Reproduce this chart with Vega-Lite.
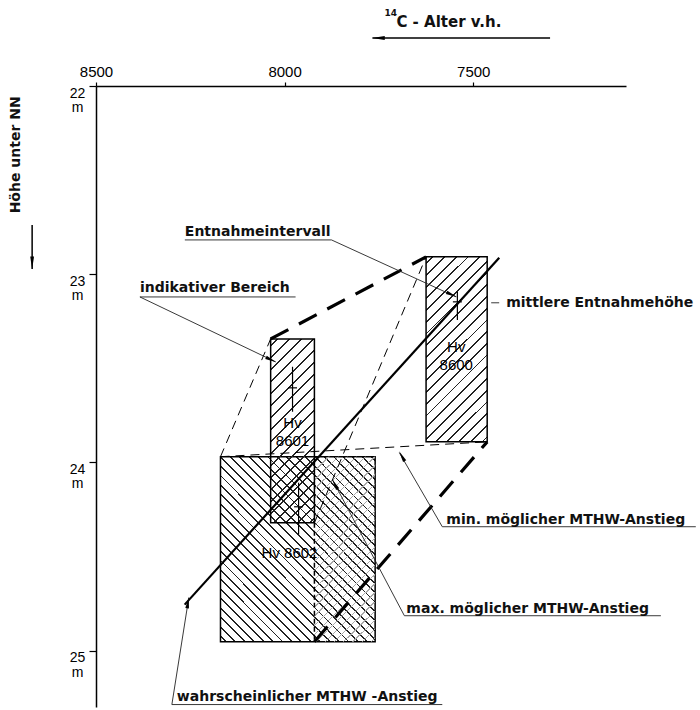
{
  "$schema": "https://vega.github.io/schema/vega-lite/v6.json",
  "width": 530,
  "height": 621,
  "autosize": {"type": "none"},
  "padding": {"left": 96, "top": 86, "right": 74, "bottom": 3},
  "background": "white",
  "config": {"view": {"stroke": null}, "axis": {"grid": false}},
  "datasets": {
    "regions": [
      {"sample": "Hv 8600", "age": 7625, "age2": 7463, "depth": 22.908, "depth2": 23.891},
      {"sample": "Hv 8601", "age": 8037, "age2": 7921, "depth": 23.344, "depth2": 24.321},
      {"sample": "Hv 8602", "age": 8170, "age2": 7760, "depth": 23.97, "depth2": 24.953},
      {"sample": "Hv 8602 jung", "age": 7921, "age2": 7760, "depth": 23.97, "depth2": 24.953}
    ],
    "segments": [
      {"kind": "wahrscheinlich", "age": 8265, "depth": 24.756, "age2": 7431, "depth2": 22.913},
      {"kind": "grenze", "age": 8037, "depth": 23.344, "age2": 7625, "depth2": 22.908},
      {"kind": "grenze", "age": 7921, "depth": 24.953, "age2": 7463, "depth2": 23.891},
      {"kind": "hilfslinie", "age": 8170, "depth": 23.97, "age2": 8037, "depth2": 23.344},
      {"kind": "hilfslinie", "age": 8170, "depth": 23.97, "age2": 7463, "depth2": 23.891},
      {"kind": "hilfslinie", "age": 7921, "depth": 24.321, "age2": 7625, "depth2": 22.908},
      {"kind": "senkrecht", "age": 7921, "depth": 24.321, "age2": 7921, "depth2": 24.953}
    ],
    "intervals": [
      {"sample": "Hv 8600", "age": 7542, "depth": 23.094, "depth2": 23.243},
      {"sample": "Hv 8601", "age": 7979, "depth": 23.492, "depth2": 23.731},
      {"sample": "Hv 8602", "age": 7963, "depth": 24.108, "depth2": 24.384}
    ],
    "means": [
      {"sample": "Hv 8600", "age": 7542, "depth": 23.147},
      {"sample": "Hv 8601", "age": 7979, "depth": 23.604},
      {"sample": "Hv 8602", "age": 7963, "depth": 24.236}
    ],
    "sampleLabels": [
      {"label": "Hv", "age": 7545, "depth": 23.386},
      {"label": "8600", "age": 7545, "depth": 23.482},
      {"label": "Hv", "age": 7979, "depth": 23.79},
      {"label": "8601", "age": 7979, "depth": 23.885},
      {"label": "Hv 8602", "age": 7987, "depth": 24.48}
    ],
    "notes": [
      {"label": "Entnahmeintervall", "age": 8264.5, "depth": 22.775},
      {"label": "indikativer Bereich", "age": 8383.6, "depth": 23.073},
      {"label": "mittlere Entnahmehöhe", "age": 7412.7, "depth": 23.152},
      {"label": "min. möglicher MTHW-Anstieg", "age": 7571.4, "depth": 24.305},
      {"label": "max. möglicher MTHW-Anstieg", "age": 7677.3, "depth": 24.778},
      {"label": "wahrscheinlicher MTHW -Anstieg", "age": 8285.7, "depth": 25.245}
    ],
    "leaders": [
      {"label": "Entnahmeintervall", "age": 8264.5, "depth": 22.818, "age2": 7875.7, "depth2": 22.818},
      {"label": "Entnahmeintervall", "age": 7875.7, "depth": 22.818, "age2": 7545, "depth2": 23.121},
      {"label": "indikativer Bereich", "age": 8383.6, "depth": 23.121, "age2": 7970.9, "depth2": 23.121},
      {"label": "indikativer Bereich", "age": 8383.6, "depth": 23.121, "age2": 8023.8, "depth2": 23.466},
      {"label": "mittlere Entnahmehöhe", "age": 7452.4, "depth": 23.152, "age2": 7431.2, "depth2": 23.152},
      {"label": "min. möglicher MTHW-Anstieg", "age": 7582, "depth": 24.342, "age2": 6910, "depth2": 24.342},
      {"label": "min. möglicher MTHW-Anstieg", "age": 7582, "depth": 24.342, "age2": 7695.8, "depth2": 23.949},
      {"label": "max. möglicher MTHW-Anstieg", "age": 7682.5, "depth": 24.815, "age2": 7002.6, "depth2": 24.815},
      {"label": "max. möglicher MTHW-Anstieg", "age": 7682.5, "depth": 24.815, "age2": 7873, "depth2": 24.092},
      {"label": "wahrscheinlicher MTHW -Anstieg", "age": 8298.9, "depth": 25.287, "age2": 7582, "depth2": 25.287},
      {"label": "wahrscheinlicher MTHW -Anstieg", "age": 8298.9, "depth": 25.287, "age2": 8254, "depth2": 24.719}
    ],
    "titleArrows": [
      {"label": "14C - Alter v.h.", "age": 7296.3, "depth": 21.745, "age2": 7767.2, "depth2": 21.745},
      {"label": "Höhe unter NN", "age": 8669.3, "depth": 22.738, "age2": 8669.3, "depth2": 22.972}
    ],
    "arrowheads": [
      {"label": "Entnahmeintervall", "age": 7556.9, "depth": 23.109},
      {"label": "indikativer Bereich", "age": 8035.7, "depth": 23.455},
      {"label": "min. möglicher MTHW-Anstieg", "age": 7689.1, "depth": 23.967},
      {"label": "max. möglicher MTHW-Anstieg", "age": 7866.7, "depth": 24.116},
      {"label": "wahrscheinlicher MTHW -Anstieg", "age": 8256.1, "depth": 24.745},
      {"label": "14C - Alter v.h.", "age": 7751.3, "depth": 21.745},
      {"label": "Höhe unter NN", "age": 8669.3, "depth": 22.94}
    ],
    "titles": [
      {"label": "C  -  Alter  v.h.", "part": "main", "age": 7703.7, "depth": 21.66},
      {"label": "14", "part": "sup", "age": 7735.5, "depth": 21.612},
      {"label": "Höhe unter NN", "part": "yaxis", "age": 8711.6, "depth": 22.366}
    ]
  },
  "encoding": {
    "x": {
      "field": "age", "type": "quantitative",
      "scale": {"domain": [8500, 7095], "nice": false, "zero": false},
      "axis": {
        "orient": "top", "values": [8500, 8000, 7500], "title": null, "format": "d",
        "domainColor": "black", "domainWidth": 1.5, "tickColor": "black", "tickSize": 4, "tickWidth": 1.2,
        "labelFont": "Liberation Sans", "labelFontSize": 15, "labelColor": "black", "labelPadding": 3,
        "labelFlush": false, "labelOverlap": false, "grid": false
      }
    },
    "y": {
      "field": "depth", "type": "quantitative",
      "scale": {"domain": [22, 25.3], "reverse": true, "nice": false, "zero": false},
      "axis": {
        "orient": "left", "values": [22, 23, 24, 25], "title": null, "format": "d",
        "domainColor": "black", "domainWidth": 1.5, "tickColor": "black", "tickSize": 7, "tickWidth": 1.2,
        "labelFont": "Liberation Sans", "labelFontSize": 14, "labelColor": "black",
        "labelAlign": "center", "labelBaseline": "middle", "labelPadding": 12,
        "labelExpr": "[datum.label, 'm']", "labelLineHeight": 14.5, "labelOffset": 7,
        "labelFlush": false, "labelOverlap": false, "grid": false
      }
    }
  },
  "layer": [
    {
      "data": {"name": "regions"},
      "transform": [{"filter": "datum.sample === 'Hv 8602'"}],
      "mark": {
        "type": "rect", "stroke": "black", "strokeWidth": 1.5,
        "fill": {"gradient": "linear", "x1": 0, "y1": 1, "x2": 0.9047, "y2": -0.0798, "stops": [
          {"offset":0.0139,"color":"transparent"},{"offset":0.0139,"color":"#222"},{"offset":0.0194,"color":"#222"},{"offset":0.0194,"color":"transparent"},
          {"offset":0.0417,"color":"transparent"},{"offset":0.0417,"color":"#222"},{"offset":0.0472,"color":"#222"},{"offset":0.0472,"color":"transparent"},
          {"offset":0.0694,"color":"transparent"},{"offset":0.0694,"color":"#222"},{"offset":0.0749,"color":"#222"},{"offset":0.0749,"color":"transparent"},
          {"offset":0.0972,"color":"transparent"},{"offset":0.0972,"color":"#222"},{"offset":0.1027,"color":"#222"},{"offset":0.1027,"color":"transparent"},
          {"offset":0.125,"color":"transparent"},{"offset":0.125,"color":"#222"},{"offset":0.1305,"color":"#222"},{"offset":0.1305,"color":"transparent"},
          {"offset":0.1528,"color":"transparent"},{"offset":0.1528,"color":"#222"},{"offset":0.1583,"color":"#222"},{"offset":0.1583,"color":"transparent"},
          {"offset":0.1806,"color":"transparent"},{"offset":0.1806,"color":"#222"},{"offset":0.1861,"color":"#222"},{"offset":0.1861,"color":"transparent"},
          {"offset":0.2083,"color":"transparent"},{"offset":0.2083,"color":"#222"},{"offset":0.2138,"color":"#222"},{"offset":0.2138,"color":"transparent"},
          {"offset":0.2361,"color":"transparent"},{"offset":0.2361,"color":"#222"},{"offset":0.2416,"color":"#222"},{"offset":0.2416,"color":"transparent"},
          {"offset":0.2639,"color":"transparent"},{"offset":0.2639,"color":"#222"},{"offset":0.2694,"color":"#222"},{"offset":0.2694,"color":"transparent"},
          {"offset":0.2917,"color":"transparent"},{"offset":0.2917,"color":"#222"},{"offset":0.2972,"color":"#222"},{"offset":0.2972,"color":"transparent"},
          {"offset":0.3194,"color":"transparent"},{"offset":0.3194,"color":"#222"},{"offset":0.3249,"color":"#222"},{"offset":0.3249,"color":"transparent"},
          {"offset":0.3472,"color":"transparent"},{"offset":0.3472,"color":"#222"},{"offset":0.3527,"color":"#222"},{"offset":0.3527,"color":"transparent"},
          {"offset":0.375,"color":"transparent"},{"offset":0.375,"color":"#222"},{"offset":0.3805,"color":"#222"},{"offset":0.3805,"color":"transparent"},
          {"offset":0.4028,"color":"transparent"},{"offset":0.4028,"color":"#222"},{"offset":0.4083,"color":"#222"},{"offset":0.4083,"color":"transparent"},
          {"offset":0.4306,"color":"transparent"},{"offset":0.4306,"color":"#222"},{"offset":0.4361,"color":"#222"},{"offset":0.4361,"color":"transparent"},
          {"offset":0.4583,"color":"transparent"},{"offset":0.4583,"color":"#222"},{"offset":0.4638,"color":"#222"},{"offset":0.4638,"color":"transparent"},
          {"offset":0.4861,"color":"transparent"},{"offset":0.4861,"color":"#222"},{"offset":0.4916,"color":"#222"},{"offset":0.4916,"color":"transparent"},
          {"offset":0.5139,"color":"transparent"},{"offset":0.5139,"color":"#222"},{"offset":0.5194,"color":"#222"},{"offset":0.5194,"color":"transparent"},
          {"offset":0.5417,"color":"transparent"},{"offset":0.5417,"color":"#222"},{"offset":0.5472,"color":"#222"},{"offset":0.5472,"color":"transparent"},
          {"offset":0.5694,"color":"transparent"},{"offset":0.5694,"color":"#222"},{"offset":0.5749,"color":"#222"},{"offset":0.5749,"color":"transparent"},
          {"offset":0.5972,"color":"transparent"},{"offset":0.5972,"color":"#222"},{"offset":0.6027,"color":"#222"},{"offset":0.6027,"color":"transparent"},
          {"offset":0.625,"color":"transparent"},{"offset":0.625,"color":"#222"},{"offset":0.6305,"color":"#222"},{"offset":0.6305,"color":"transparent"},
          {"offset":0.6528,"color":"transparent"},{"offset":0.6528,"color":"#222"},{"offset":0.6583,"color":"#222"},{"offset":0.6583,"color":"transparent"},
          {"offset":0.6806,"color":"transparent"},{"offset":0.6806,"color":"#222"},{"offset":0.6861,"color":"#222"},{"offset":0.6861,"color":"transparent"},
          {"offset":0.7083,"color":"transparent"},{"offset":0.7083,"color":"#222"},{"offset":0.7138,"color":"#222"},{"offset":0.7138,"color":"transparent"},
          {"offset":0.7361,"color":"transparent"},{"offset":0.7361,"color":"#222"},{"offset":0.7416,"color":"#222"},{"offset":0.7416,"color":"transparent"},
          {"offset":0.7639,"color":"transparent"},{"offset":0.7639,"color":"#222"},{"offset":0.7694,"color":"#222"},{"offset":0.7694,"color":"transparent"},
          {"offset":0.7917,"color":"transparent"},{"offset":0.7917,"color":"#222"},{"offset":0.7972,"color":"#222"},{"offset":0.7972,"color":"transparent"},
          {"offset":0.8194,"color":"transparent"},{"offset":0.8194,"color":"#222"},{"offset":0.8249,"color":"#222"},{"offset":0.8249,"color":"transparent"},
          {"offset":0.8472,"color":"transparent"},{"offset":0.8472,"color":"#222"},{"offset":0.8527,"color":"#222"},{"offset":0.8527,"color":"transparent"},
          {"offset":0.875,"color":"transparent"},{"offset":0.875,"color":"#222"},{"offset":0.8805,"color":"#222"},{"offset":0.8805,"color":"transparent"},
          {"offset":0.9028,"color":"transparent"},{"offset":0.9028,"color":"#222"},{"offset":0.9083,"color":"#222"},{"offset":0.9083,"color":"transparent"},
          {"offset":0.9306,"color":"transparent"},{"offset":0.9306,"color":"#222"},{"offset":0.9361,"color":"#222"},{"offset":0.9361,"color":"transparent"},
          {"offset":0.9583,"color":"transparent"},{"offset":0.9583,"color":"#222"},{"offset":0.9638,"color":"#222"},{"offset":0.9638,"color":"transparent"},
          {"offset":0.9861,"color":"transparent"},{"offset":0.9861,"color":"#222"},{"offset":0.9916,"color":"#222"},{"offset":0.9916,"color":"transparent"}
        ]}
      },
      "encoding": {"x2": {"field": "age2"}, "y2": {"field": "depth2"}}
    },
    {
      "data": {"name": "regions"},
      "transform": [{"filter": "datum.sample === 'Hv 8602 jung'"}],
      "mark": {
        "type": "rect", "strokeWidth": 0,
        "fill": {"gradient": "linear", "x1": 0, "y1": 0, "x2": 0.3886, "y2": 1.1983, "stops": [
          {"offset":0.0185,"color":"transparent"},{"offset":0.0185,"color":"#aaa"},{"offset":0.0235,"color":"#aaa"},{"offset":0.0235,"color":"transparent"},
          {"offset":0.0556,"color":"transparent"},{"offset":0.0556,"color":"#aaa"},{"offset":0.0606,"color":"#aaa"},{"offset":0.0606,"color":"transparent"},
          {"offset":0.0926,"color":"transparent"},{"offset":0.0926,"color":"#aaa"},{"offset":0.0976,"color":"#aaa"},{"offset":0.0976,"color":"transparent"},
          {"offset":0.1296,"color":"transparent"},{"offset":0.1296,"color":"#aaa"},{"offset":0.1346,"color":"#aaa"},{"offset":0.1346,"color":"transparent"},
          {"offset":0.1667,"color":"transparent"},{"offset":0.1667,"color":"#aaa"},{"offset":0.1717,"color":"#aaa"},{"offset":0.1717,"color":"transparent"},
          {"offset":0.2037,"color":"transparent"},{"offset":0.2037,"color":"#aaa"},{"offset":0.2087,"color":"#aaa"},{"offset":0.2087,"color":"transparent"},
          {"offset":0.2407,"color":"transparent"},{"offset":0.2407,"color":"#aaa"},{"offset":0.2457,"color":"#aaa"},{"offset":0.2457,"color":"transparent"},
          {"offset":0.2778,"color":"transparent"},{"offset":0.2778,"color":"#aaa"},{"offset":0.2828,"color":"#aaa"},{"offset":0.2828,"color":"transparent"},
          {"offset":0.3148,"color":"transparent"},{"offset":0.3148,"color":"#aaa"},{"offset":0.3198,"color":"#aaa"},{"offset":0.3198,"color":"transparent"},
          {"offset":0.3519,"color":"transparent"},{"offset":0.3519,"color":"#aaa"},{"offset":0.3569,"color":"#aaa"},{"offset":0.3569,"color":"transparent"},
          {"offset":0.3889,"color":"transparent"},{"offset":0.3889,"color":"#aaa"},{"offset":0.3939,"color":"#aaa"},{"offset":0.3939,"color":"transparent"},
          {"offset":0.4259,"color":"transparent"},{"offset":0.4259,"color":"#aaa"},{"offset":0.4309,"color":"#aaa"},{"offset":0.4309,"color":"transparent"},
          {"offset":0.463,"color":"transparent"},{"offset":0.463,"color":"#aaa"},{"offset":0.468,"color":"#aaa"},{"offset":0.468,"color":"transparent"},
          {"offset":0.5,"color":"transparent"},{"offset":0.5,"color":"#aaa"},{"offset":0.505,"color":"#aaa"},{"offset":0.505,"color":"transparent"},
          {"offset":0.537,"color":"transparent"},{"offset":0.537,"color":"#aaa"},{"offset":0.542,"color":"#aaa"},{"offset":0.542,"color":"transparent"},
          {"offset":0.5741,"color":"transparent"},{"offset":0.5741,"color":"#aaa"},{"offset":0.5791,"color":"#aaa"},{"offset":0.5791,"color":"transparent"},
          {"offset":0.6111,"color":"transparent"},{"offset":0.6111,"color":"#aaa"},{"offset":0.6161,"color":"#aaa"},{"offset":0.6161,"color":"transparent"},
          {"offset":0.6481,"color":"transparent"},{"offset":0.6481,"color":"#aaa"},{"offset":0.6531,"color":"#aaa"},{"offset":0.6531,"color":"transparent"},
          {"offset":0.6852,"color":"transparent"},{"offset":0.6852,"color":"#aaa"},{"offset":0.6902,"color":"#aaa"},{"offset":0.6902,"color":"transparent"},
          {"offset":0.7222,"color":"transparent"},{"offset":0.7222,"color":"#aaa"},{"offset":0.7272,"color":"#aaa"},{"offset":0.7272,"color":"transparent"},
          {"offset":0.7593,"color":"transparent"},{"offset":0.7593,"color":"#aaa"},{"offset":0.7643,"color":"#aaa"},{"offset":0.7643,"color":"transparent"},
          {"offset":0.7963,"color":"transparent"},{"offset":0.7963,"color":"#aaa"},{"offset":0.8013,"color":"#aaa"},{"offset":0.8013,"color":"transparent"},
          {"offset":0.8333,"color":"transparent"},{"offset":0.8333,"color":"#aaa"},{"offset":0.8383,"color":"#aaa"},{"offset":0.8383,"color":"transparent"},
          {"offset":0.8704,"color":"transparent"},{"offset":0.8704,"color":"#aaa"},{"offset":0.8754,"color":"#aaa"},{"offset":0.8754,"color":"transparent"},
          {"offset":0.9074,"color":"transparent"},{"offset":0.9074,"color":"#aaa"},{"offset":0.9124,"color":"#aaa"},{"offset":0.9124,"color":"transparent"},
          {"offset":0.9444,"color":"transparent"},{"offset":0.9444,"color":"#aaa"},{"offset":0.9494,"color":"#aaa"},{"offset":0.9494,"color":"transparent"},
          {"offset":0.9815,"color":"transparent"},{"offset":0.9815,"color":"#aaa"},{"offset":0.9865,"color":"#aaa"},{"offset":0.9865,"color":"transparent"}
        ]}
      },
      "encoding": {"x2": {"field": "age2"}, "y2": {"field": "depth2"}}
    },
    {
      "data": {"name": "regions"},
      "transform": [{"filter": "datum.sample === 'Hv 8601'"}],
      "mark": {
        "type": "rect", "stroke": "black", "strokeWidth": 1.5,
        "fill": {"gradient": "linear", "x1": 0, "y1": 0, "x2": 0.2803, "y2": 1.1721, "stops": [
          {"offset":0.0263,"color":"transparent"},{"offset":0.0263,"color":"#222"},{"offset":0.0343,"color":"#222"},{"offset":0.0343,"color":"transparent"},
          {"offset":0.0789,"color":"transparent"},{"offset":0.0789,"color":"#222"},{"offset":0.0869,"color":"#222"},{"offset":0.0869,"color":"transparent"},
          {"offset":0.1316,"color":"transparent"},{"offset":0.1316,"color":"#222"},{"offset":0.1396,"color":"#222"},{"offset":0.1396,"color":"transparent"},
          {"offset":0.1842,"color":"transparent"},{"offset":0.1842,"color":"#222"},{"offset":0.1922,"color":"#222"},{"offset":0.1922,"color":"transparent"},
          {"offset":0.2368,"color":"transparent"},{"offset":0.2368,"color":"#222"},{"offset":0.2448,"color":"#222"},{"offset":0.2448,"color":"transparent"},
          {"offset":0.2895,"color":"transparent"},{"offset":0.2895,"color":"#222"},{"offset":0.2975,"color":"#222"},{"offset":0.2975,"color":"transparent"},
          {"offset":0.3421,"color":"transparent"},{"offset":0.3421,"color":"#222"},{"offset":0.3501,"color":"#222"},{"offset":0.3501,"color":"transparent"},
          {"offset":0.3947,"color":"transparent"},{"offset":0.3947,"color":"#222"},{"offset":0.4027,"color":"#222"},{"offset":0.4027,"color":"transparent"},
          {"offset":0.4474,"color":"transparent"},{"offset":0.4474,"color":"#222"},{"offset":0.4554,"color":"#222"},{"offset":0.4554,"color":"transparent"},
          {"offset":0.5,"color":"transparent"},{"offset":0.5,"color":"#222"},{"offset":0.508,"color":"#222"},{"offset":0.508,"color":"transparent"},
          {"offset":0.5526,"color":"transparent"},{"offset":0.5526,"color":"#222"},{"offset":0.5606,"color":"#222"},{"offset":0.5606,"color":"transparent"},
          {"offset":0.6053,"color":"transparent"},{"offset":0.6053,"color":"#222"},{"offset":0.6133,"color":"#222"},{"offset":0.6133,"color":"transparent"},
          {"offset":0.6579,"color":"transparent"},{"offset":0.6579,"color":"#222"},{"offset":0.6659,"color":"#222"},{"offset":0.6659,"color":"transparent"},
          {"offset":0.7105,"color":"transparent"},{"offset":0.7105,"color":"#222"},{"offset":0.7185,"color":"#222"},{"offset":0.7185,"color":"transparent"},
          {"offset":0.7632,"color":"transparent"},{"offset":0.7632,"color":"#222"},{"offset":0.7712,"color":"#222"},{"offset":0.7712,"color":"transparent"},
          {"offset":0.8158,"color":"transparent"},{"offset":0.8158,"color":"#222"},{"offset":0.8238,"color":"#222"},{"offset":0.8238,"color":"transparent"},
          {"offset":0.8684,"color":"transparent"},{"offset":0.8684,"color":"#222"},{"offset":0.8764,"color":"#222"},{"offset":0.8764,"color":"transparent"},
          {"offset":0.9211,"color":"transparent"},{"offset":0.9211,"color":"#222"},{"offset":0.9291,"color":"#222"},{"offset":0.9291,"color":"transparent"},
          {"offset":0.9737,"color":"transparent"},{"offset":0.9737,"color":"#222"},{"offset":0.9817,"color":"#222"},{"offset":0.9817,"color":"transparent"}
        ]}
      },
      "encoding": {"x2": {"field": "age2"}, "y2": {"field": "depth2"}}
    },
    {
      "data": {"name": "regions"},
      "transform": [{"filter": "datum.sample === 'Hv 8600'"}],
      "mark": {
        "type": "rect", "stroke": "black", "strokeWidth": 1.5,
        "fill": {"gradient": "linear", "x1": 0, "y1": 0, "x2": 0.3955, "y2": 1.1993, "stops": [
          {"offset":0.0238,"color":"transparent"},{"offset":0.0238,"color":"#222"},{"offset":0.0311,"color":"#222"},{"offset":0.0311,"color":"transparent"},
          {"offset":0.0714,"color":"transparent"},{"offset":0.0714,"color":"#222"},{"offset":0.0787,"color":"#222"},{"offset":0.0787,"color":"transparent"},
          {"offset":0.119,"color":"transparent"},{"offset":0.119,"color":"#222"},{"offset":0.1263,"color":"#222"},{"offset":0.1263,"color":"transparent"},
          {"offset":0.1667,"color":"transparent"},{"offset":0.1667,"color":"#222"},{"offset":0.174,"color":"#222"},{"offset":0.174,"color":"transparent"},
          {"offset":0.2143,"color":"transparent"},{"offset":0.2143,"color":"#222"},{"offset":0.2216,"color":"#222"},{"offset":0.2216,"color":"transparent"},
          {"offset":0.2619,"color":"transparent"},{"offset":0.2619,"color":"#222"},{"offset":0.2692,"color":"#222"},{"offset":0.2692,"color":"transparent"},
          {"offset":0.3095,"color":"transparent"},{"offset":0.3095,"color":"#222"},{"offset":0.3168,"color":"#222"},{"offset":0.3168,"color":"transparent"},
          {"offset":0.3571,"color":"transparent"},{"offset":0.3571,"color":"#222"},{"offset":0.3644,"color":"#222"},{"offset":0.3644,"color":"transparent"},
          {"offset":0.4048,"color":"transparent"},{"offset":0.4048,"color":"#222"},{"offset":0.4121,"color":"#222"},{"offset":0.4121,"color":"transparent"},
          {"offset":0.4524,"color":"transparent"},{"offset":0.4524,"color":"#222"},{"offset":0.4597,"color":"#222"},{"offset":0.4597,"color":"transparent"},
          {"offset":0.5,"color":"transparent"},{"offset":0.5,"color":"#222"},{"offset":0.5073,"color":"#222"},{"offset":0.5073,"color":"transparent"},
          {"offset":0.5476,"color":"transparent"},{"offset":0.5476,"color":"#222"},{"offset":0.5549,"color":"#222"},{"offset":0.5549,"color":"transparent"},
          {"offset":0.5952,"color":"transparent"},{"offset":0.5952,"color":"#222"},{"offset":0.6025,"color":"#222"},{"offset":0.6025,"color":"transparent"},
          {"offset":0.6429,"color":"transparent"},{"offset":0.6429,"color":"#222"},{"offset":0.6502,"color":"#222"},{"offset":0.6502,"color":"transparent"},
          {"offset":0.6905,"color":"transparent"},{"offset":0.6905,"color":"#222"},{"offset":0.6978,"color":"#222"},{"offset":0.6978,"color":"transparent"},
          {"offset":0.7381,"color":"transparent"},{"offset":0.7381,"color":"#222"},{"offset":0.7454,"color":"#222"},{"offset":0.7454,"color":"transparent"},
          {"offset":0.7857,"color":"transparent"},{"offset":0.7857,"color":"#222"},{"offset":0.793,"color":"#222"},{"offset":0.793,"color":"transparent"},
          {"offset":0.8333,"color":"transparent"},{"offset":0.8333,"color":"#222"},{"offset":0.8406,"color":"#222"},{"offset":0.8406,"color":"transparent"},
          {"offset":0.881,"color":"transparent"},{"offset":0.881,"color":"#222"},{"offset":0.8883,"color":"#222"},{"offset":0.8883,"color":"transparent"},
          {"offset":0.9286,"color":"transparent"},{"offset":0.9286,"color":"#222"},{"offset":0.9359,"color":"#222"},{"offset":0.9359,"color":"transparent"},
          {"offset":0.9762,"color":"transparent"},{"offset":0.9762,"color":"#222"},{"offset":0.9835,"color":"#222"},{"offset":0.9835,"color":"transparent"}
        ]}
      },
      "encoding": {"x2": {"field": "age2"}, "y2": {"field": "depth2"}}
    },
    {
      "data": {"name": "segments"},
      "transform": [{"filter": "datum.kind === 'hilfslinie'"}],
      "mark": {"type": "rule", "color": "black", "strokeWidth": 1, "strokeDash": [9, 6]},
      "encoding": {"x2": {"field": "age2"}, "y2": {"field": "depth2"}}
    },
    {
      "data": {"name": "segments"},
      "transform": [{"filter": "datum.kind === 'senkrecht'"}],
      "mark": {"type": "rule", "color": "black", "strokeWidth": 1.5, "strokeDash": [5, 3]},
      "encoding": {"x2": {"field": "age2"}, "y2": {"field": "depth2"}}
    },
    {
      "data": {"name": "segments"},
      "transform": [{"filter": "datum.kind === 'grenze'"}],
      "mark": {"type": "rule", "color": "black", "strokeWidth": 3.2, "strokeDash": [20, 12]},
      "encoding": {"x2": {"field": "age2"}, "y2": {"field": "depth2"}}
    },
    {
      "data": {"name": "segments"},
      "transform": [{"filter": "datum.kind === 'wahrscheinlich'"}],
      "mark": {"type": "rule", "color": "black", "strokeWidth": 2.2},
      "encoding": {"x2": {"field": "age2"}, "y2": {"field": "depth2"}}
    },
    {
      "data": {"name": "intervals"},
      "mark": {"type": "rule", "color": "black", "strokeWidth": 1.2},
      "encoding": {"y2": {"field": "depth2"}}
    },
    {
      "data": {"name": "means"},
      "mark": {"type": "tick", "orient": "horizontal", "size": 9, "thickness": 1.2, "color": "black", "opacity": 1}
    },
    {
      "data": {"name": "leaders"},
      "mark": {"type": "rule", "color": "#222", "strokeWidth": 0.9},
      "encoding": {"x2": {"field": "age2"}, "y2": {"field": "depth2"}}
    },
    {
      "data": {"name": "titleArrows"},
      "mark": {"type": "rule", "color": "black", "strokeWidth": 1.5},
      "encoding": {"x2": {"field": "age2"}, "y2": {"field": "depth2"}}
    },
    {
      "data": {"name": "arrowheads"},
      "transform": [{"filter": {"field": "label", "oneOf": ["Entnahmeintervall", "indikativer Bereich"]}}],
      "mark": {"type": "point", "shape": "M0,-1L0.32,1L-0.32,1Z", "filled": true, "color": "black", "opacity": 1, "size": 130, "angle": 115}
    },
    {
      "data": {"name": "arrowheads"},
      "transform": [{"filter": {"field": "label", "oneOf": ["min. möglicher MTHW-Anstieg", "max. möglicher MTHW-Anstieg"]}}],
      "mark": {"type": "point", "shape": "M0,-1L0.32,1L-0.32,1Z", "filled": true, "color": "black", "opacity": 1, "size": 130, "angle": 331}
    },
    {
      "data": {"name": "arrowheads"},
      "transform": [{"filter": "datum.label === 'wahrscheinlicher MTHW -Anstieg'"}],
      "mark": {"type": "point", "shape": "M0,-1L0.32,1L-0.32,1Z", "filled": true, "color": "black", "opacity": 1, "size": 130, "angle": 9}
    },
    {
      "data": {"name": "arrowheads"},
      "transform": [{"filter": "datum.label === '14C - Alter v.h.'"}],
      "mark": {"type": "point", "shape": "M0,-1L0.3,1L-0.3,1Z", "filled": true, "color": "black", "opacity": 1, "size": 160, "angle": 270}
    },
    {
      "data": {"name": "arrowheads"},
      "transform": [{"filter": "datum.label === 'Höhe unter NN'"}],
      "mark": {"type": "point", "shape": "M0,-1L0.3,1L-0.3,1Z", "filled": true, "color": "black", "opacity": 1, "size": 160, "angle": 180}
    },
    {
      "data": {"name": "sampleLabels"},
      "mark": {"type": "text", "font": "Liberation Sans", "fontSize": 15, "color": "black", "align": "center", "baseline": "middle"},
      "encoding": {"text": {"field": "label"}}
    },
    {
      "data": {"name": "notes"},
      "mark": {"type": "text", "font": "DejaVu Sans", "fontWeight": "bold", "fontSize": 14, "color": "#111", "align": "left", "baseline": "middle"},
      "encoding": {"text": {"field": "label"}}
    },
    {
      "data": {"name": "titles"},
      "transform": [{"filter": "datum.part === 'main'"}],
      "mark": {"type": "text", "font": "DejaVu Sans", "fontWeight": "bold", "fontSize": 15, "color": "#111", "align": "left", "baseline": "middle"},
      "encoding": {"text": {"field": "label"}}
    },
    {
      "data": {"name": "titles"},
      "transform": [{"filter": "datum.part === 'sup'"}],
      "mark": {"type": "text", "font": "DejaVu Sans", "fontWeight": "bold", "fontSize": 9, "color": "#111", "align": "left", "baseline": "middle"},
      "encoding": {"text": {"field": "label"}}
    },
    {
      "data": {"name": "titles"},
      "transform": [{"filter": "datum.part === 'yaxis'"}],
      "mark": {"type": "text", "font": "DejaVu Sans", "fontWeight": "bold", "fontSize": 14, "color": "#111", "align": "center", "baseline": "middle", "angle": 270},
      "encoding": {"text": {"field": "label"}}
    }
  ]
}
